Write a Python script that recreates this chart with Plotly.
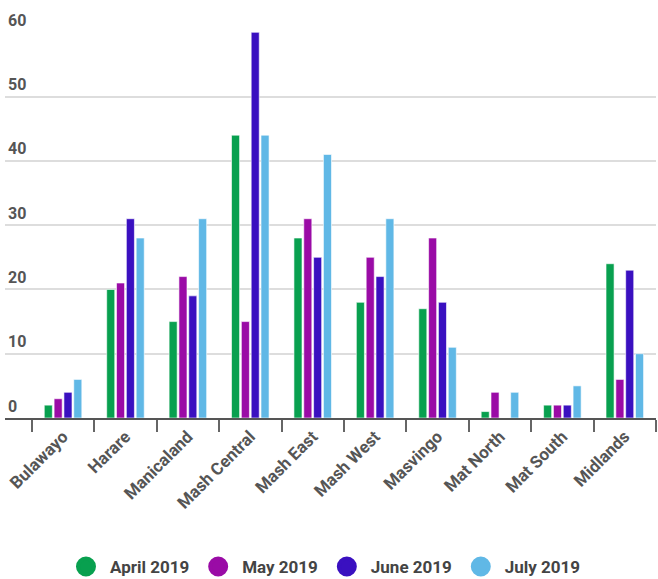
import plotly.graph_objects as go

categories = ["Bulawayo", "Harare", "Manicaland", "Mash Central", "Mash East",
              "Mash West", "Masvingo", "Mat North", "Mat South", "Midlands"]
april_2019 = [2, 20, 15, 44, 28, 18, 17, 1, 2, 24]
may_2019 = [3, 21, 22, 15, 31, 25, 28, 4, 2, 6]
june_2019 = [4, 31, 19, 60, 25, 22, 18, 0, 2, 23]
july_2019 = [6, 28, 31, 44, 41, 31, 11, 4, 5, 10]

series_names = ["April 2019", "May 2019", "June 2019", "July 2019"]
series_values = [april_2019, may_2019, june_2019, july_2019]
colors = ["#08a04f", "#9a0ba6", "#3a10c0", "#60b8e6"]
y_ticks = [0, 10, 20, 30, 40, 50, 60]

fig = go.Figure()
for name, vals, col in zip(series_names, series_values, colors):
    fig.add_trace(go.Bar(
        x=categories, y=vals, name=name, showlegend=False,
        marker=dict(color=col, line=dict(color="rgba(255,255,255,0.6)", width=1)),
    ))
for name, col in zip(series_names, colors):
    fig.add_trace(go.Scatter(
        x=[None], y=[None], mode="markers", name=name,
        marker=dict(color=col, size=22, symbol="circle",
                    line=dict(color=col, width=4)),
    ))

x_tick_font = dict(family="Roboto", size=17, color="#555555", weight="bold")
y_tick_font = dict(family="Roboto", size=16, color="#555555", weight="bold")

fig.update_layout(
    width=658, height=579,
    margin=dict(l=5, r=2, t=32, b=161, autoexpand=False),
    paper_bgcolor="white", plot_bgcolor="white",
    barmode="group", bargap=0.37, bargroupgap=0.18,
    font=dict(family="Roboto"),
    legend=dict(
        orientation="h", x=0.49, xanchor="center", y=-0.386, yanchor="middle",
        font=dict(family="Roboto", size=17, color="#444444", weight="bold"),
        itemsizing="trace", itemwidth=38,
    ),
    xaxis=dict(
        type="category", range=[-0.93, 9.5], automargin=False,
        tickangle=-45, tickfont=x_tick_font,
        tickson="boundaries", ticks="outside", ticklen=12,
        tickcolor="#666666", tickwidth=1.5,
        showline=True, linecolor="#555555", linewidth=2,
        showgrid=False,
    ),
    yaxis=dict(
        range=[0, 60.05], tickvals=y_ticks, automargin=False,
        tickfont=y_tick_font,
        ticklabelposition="inside", ticklabelshift=-12,
        ticklabeloverflow="allow",
        showgrid=True, gridcolor="#dddddd", gridwidth=1.5,
        zeroline=False, showline=False, ticks="",
    ),
)

fig.write_html("out.html", config={"displayModeBar": False},
               post_script="document.body.style.margin='0';")
